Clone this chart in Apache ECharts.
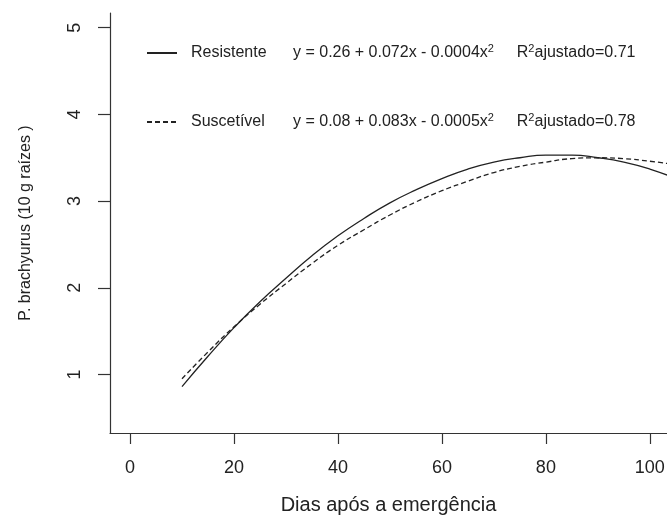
<!DOCTYPE html>
<html>
<head>
<meta charset="utf-8">
<script src="https://cdn.jsdelivr.net/npm/echarts@6/dist/echarts.min.js"></script>
<style>
  html, body { margin: 0; padding: 0; background: #fff; }
  #chart { width: 667px; height: 516px; }
</style>
</head>
<body>
<div id="chart"></div>
<script>
// dias apos a emergencia
const days = [10, 15, 20, 25, 30, 35, 40, 45, 50, 55, 60, 65, 70, 75, 80, 85, 90, 95, 100, 105]
// P. brachyurus
const resistente = [0.86, 1.21, 1.54, 1.84, 2.11, 2.37, 2.60, 2.80, 2.98, 3.13, 3.26, 3.37, 3.45, 3.50, 3.53, 3.53, 3.50, 3.45, 3.37, 3.26]
const suscetivel = [0.95, 1.26, 1.55, 1.81, 2.05, 2.28, 2.49, 2.67, 2.84, 2.99, 3.12, 3.23, 3.33, 3.40, 3.45, 3.49, 3.50, 3.49, 3.46, 3.42]
const xTicks = [0, 20, 40, 60, 80, 100]
const yTicks = [1, 2, 3, 4, 5]
const names = ['Resistente', 'Suscetível']
const equations = ['y = 0.26 + 0.072x - 0.0004x', 'y = 0.08 + 0.083x - 0.0005x']
const r2 = ['0.71', '0.78']

const font = 'Arial, "Liberation Sans", sans-serif'
const ink = '#222'

const rich = {
  p: { width: 9 },
  n: { width: 102, fontSize: 16, lineHeight: 20, verticalAlign: 'middle', color: ink, fontFamily: font },
  e: { fontSize: 16, lineHeight: 20, verticalAlign: 'middle', color: ink, fontFamily: font },
  s1: { width: 29, fontSize: 11, lineHeight: 12, verticalAlign: 'top', color: ink, fontFamily: font },
  r: { fontSize: 16, lineHeight: 20, verticalAlign: 'middle', color: ink, fontFamily: font },
  s2: { fontSize: 11, lineHeight: 12, verticalAlign: 'top', color: ink, fontFamily: font }
}

function legendFor (i, top) {
  return {
    data: [names[i]],
    left: 146,
    top: top,
    padding: 0,
    itemWidth: 30,
    itemHeight: 14,
    selectedMode: false,
    itemStyle: { opacity: 0 },
    formatter: name => `{p| }{n|${name}}{e|${equations[i]}}{s1|2}{r|R}{s2|2}{r|ajustado=${r2[i]}}`,
    textStyle: { rich: rich }
  }
}

const chart = echarts.init(document.getElementById('chart'))
chart.setOption({
  animation: false,
  backgroundColor: '#fff',
  textStyle: { fontFamily: font },
  legend: [legendFor(0, 43), legendFor(1, 112)],
  grid: { left: 110, top: 13, bottom: 83, right: 0, containLabel: false, outerBoundsMode: 'none' },
  xAxis: {
    type: 'value',
    min: -3.85,
    max: 103.3,
    name: 'Dias após a emergência',
    nameLocation: 'middle',
    nameGap: 62,
    nameTextStyle: { fontSize: 20, color: ink },
    axisLine: { onZero: false, lineStyle: { color: '#333', width: 1.2 } },
    axisTick: { customValues: xTicks, length: 11, lineStyle: { color: '#333', width: 1.2 } },
    axisLabel: { customValues: xTicks, fontSize: 18, color: ink, margin: 26 },
    splitLine: { show: false }
  },
  yAxis: {
    type: 'value',
    min: 0.325,
    max: 5.17,
    name: 'P. brachyurus (10 g raízes )',
    nameLocation: 'middle',
    nameGap: 76,
    nameTextStyle: { fontSize: 16, color: ink },
    axisLine: { show: true, onZero: false, lineStyle: { color: '#333', width: 1.2 } },
    axisTick: { show: true, customValues: yTicks, length: 12, lineStyle: { color: '#333', width: 1.2 } },
    axisLabel: { customValues: yTicks, fontSize: 18, color: ink, rotate: 90, margin: 26 },
    splitLine: { show: false }
  },
  series: [
    {
      name: names[0],
      type: 'line',
      smooth: true,
      symbol: 'none',
      lineStyle: { color: '#222', width: 1.3, type: 'solid' },
      itemStyle: { color: '#222' },
      data: days.map((d, i) => [d, resistente[i]])
    },
    {
      name: names[1],
      type: 'line',
      smooth: true,
      symbol: 'none',
      lineStyle: { color: '#222', width: 1.3, type: [5, 3] },
      itemStyle: { color: '#222' },
      data: days.map((d, i) => [d, suscetivel[i]])
    }
  ]
})
</script>
</body>
</html>
